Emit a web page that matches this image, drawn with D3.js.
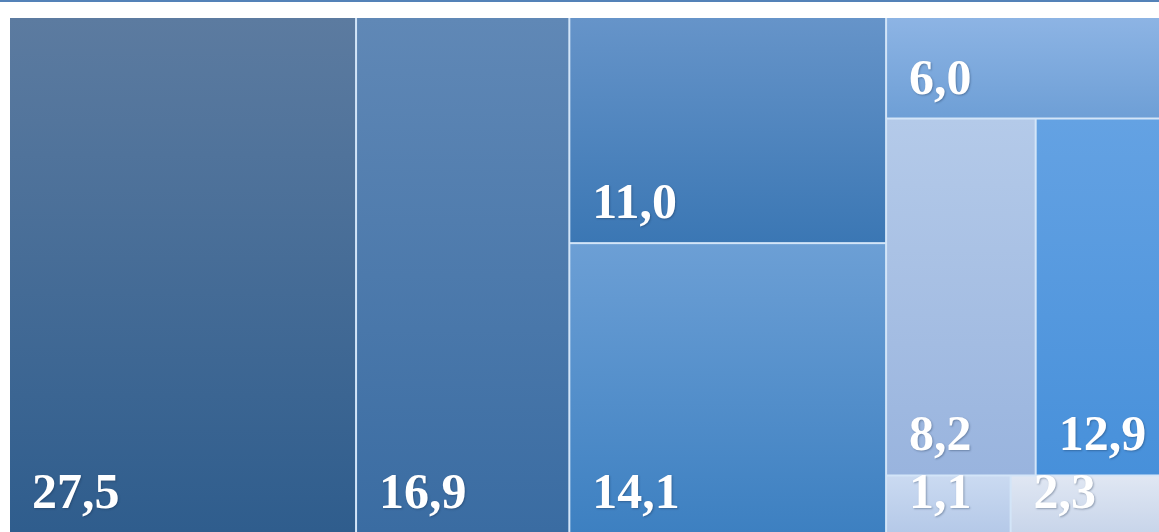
<!DOCTYPE html>
<html>
<head>
<meta charset="utf-8">
<script src="https://cdn.jsdelivr.net/npm/d3@7"></script>
<style>
  body { margin: 0; background: #ffffff; }
  .cell-label {
    font-family: "Liberation Serif", "Times New Roman", serif;
    font-weight: bold;
    font-size: 50px;
    fill: #ffffff;
    text-shadow: 1px 1px 2px rgba(20, 40, 70, 0.35);
  }
</style>
</head>
<body>
<div id="my_dataviz"></div>
<script>

// values of the cells (percent), and where each sits in the block layout
var values = [27.5, 16.9, 11.0, 14.1, 6.0, 8.2, 12.9, 1.1, 2.3]
var columnOf = [0, 1, 2, 2, 3, 3, 3, 3, 3]
var rowOf = [0, 0, 0, 1, 0, 1, 1, 2, 2]

// top / bottom colour of each cell gradient
var topColors = ["#5c7ba0", "#6088b6", "#6694c9", "#6c9fd5", "#8db4e4", "#b4cae9", "#64a2e3", "#cadaf1", "#e0e7f3"]
var bottomColors = ["#2f5d8d", "#3a6ca2", "#3b77b4", "#3d80c1", "#6e9fd6", "#99b4de", "#4790da", "#b5c9e8", "#c8d5ea"]

var width = 1159,
  height = 532
var margin = {
  top: 18,
  left: 10
}

var svg = d3.select("#my_dataviz")
  .append("svg")
  .attr("width", width)
  .attr("height", height)

// thin rule left over from the block above
svg.append("rect")
  .attr("x", 0).attr("y", 0)
  .attr("width", width).attr("height", 2)
  .style("fill", "#5482b8")

var fmt = d3.formatLocale({
  decimal: ",",
  thousands: " ",
  grouping: [3],
  currency: ["", ""]
}).format(".1f")

//------------------------------------------------------------------------//
// build the hierarchy: columns -> rows -> cells
var cells = values.map(function(v, i) {
  return { id: i, value: v, col: columnOf[i], row: rowOf[i] }
})
var grouped = d3.group(cells, function(d) { return d.col }, function(d) { return d.row })

var root = d3.hierarchy(grouped)
  .sum(function(d) { return d.value || 0 })

// the block runs past the right and bottom of the page, like the crop
d3.treemap()
  .tile(d3.treemapSliceDice)
  .size([1260, height - margin.top])
  .paddingInner(2)
  (root)

var leaves = root.leaves()

// gradients
var defs = svg.append("defs")
leaves.forEach(function(d) {
  var g = defs.append("linearGradient")
    .attr("id", "grad" + d.data.id)
    .attr("x1", 0).attr("y1", 0)
    .attr("x2", 0).attr("y2", 1)
  g.append("stop").attr("offset", "0%").attr("stop-color", topColors[d.data.id])
  g.append("stop").attr("offset", "100%").attr("stop-color", bottomColors[d.data.id])
})

var chart = svg.append("g")
  .attr("transform", "translate(" + margin.left + "," + margin.top + ")")

// light background shows through the gaps as separator lines
chart.append("rect")
  .attr("x", root.x0).attr("y", root.y0)
  .attr("width", root.x1 - root.x0)
  .attr("height", root.y1 - root.y0)
  .style("fill", "#d3e5f8")

chart.selectAll("rect.cell")
  .data(leaves)
  .enter()
  .append("rect")
  .attr("class", "cell")
  .attr("x", function(d) { return d.x0 })
  .attr("y", function(d) { return d.y0 })
  .attr("width", function(d) { return d.x1 - d.x0 })
  .attr("height", function(d) { return d.y1 - d.y0 })
  .style("fill", function(d) { return "url(#grad" + d.data.id + ")" })

// labels sit near the lower left corner of each cell
chart.selectAll("text.cell-label")
  .data(leaves)
  .enter()
  .append("text")
  .attr("class", "cell-label")
  .attr("x", function(d) { return d.x0 + 22 })
  .attr("y", function(d) { return d.y1 - 24 })
  .text(function(d) { return fmt(d.data.value) })
//------------------------------------------------------------------------//

</script>
</body>
</html>
